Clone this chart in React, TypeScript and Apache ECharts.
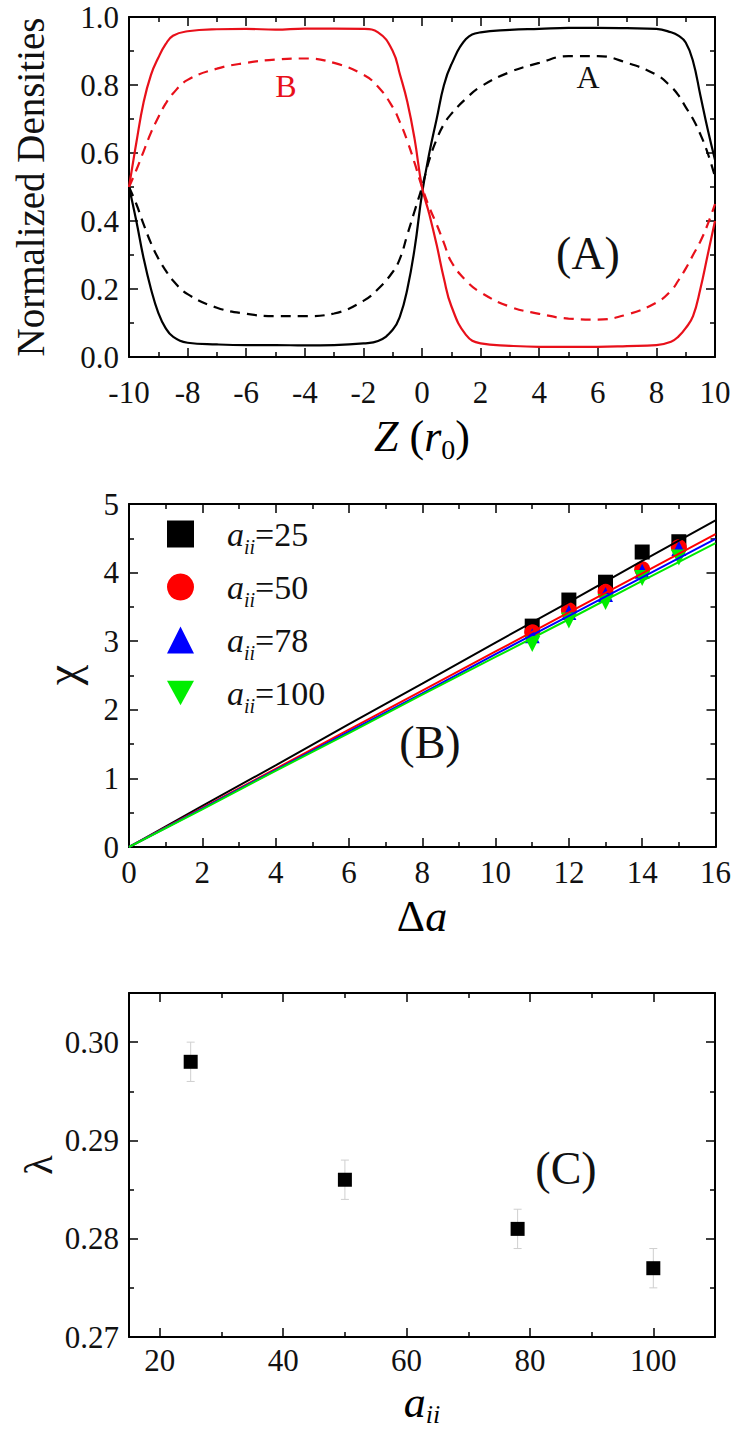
import React, { useEffect, useRef } from "react";
import * as echarts from "echarts";

// ---------- Panel A data ----------
const zGrid = [-10, -9.75, -9.5, -9.25, -9, -8.75, -8.5, -8, -7, -6, -5, -4, -3, -2, -1.5, -1, -0.75, -0.5, -0.25, 0, 0.25, 0.5, 0.75, 1, 1.5, 2, 3, 4, 5, 6, 7, 8, 8.5, 8.75, 9, 9.25, 9.5, 9.75, 10];
const blackSolid = [0.5, 0.4, 0.29, 0.2, 0.13, 0.085, 0.06, 0.042, 0.037, 0.035, 0.035, 0.034, 0.035, 0.04, 0.047, 0.08, 0.12, 0.2, 0.32, 0.48, 0.6, 0.7, 0.8, 0.86, 0.935, 0.955, 0.962, 0.965, 0.968, 0.968, 0.967, 0.965, 0.955, 0.945, 0.925, 0.87, 0.77, 0.67, 0.58];
const redSolid = [0.5, 0.63, 0.75, 0.83, 0.88, 0.92, 0.945, 0.958, 0.964, 0.965, 0.963, 0.966, 0.966, 0.965, 0.955, 0.9, 0.83, 0.75, 0.64, 0.5, 0.42, 0.33, 0.23, 0.15, 0.065, 0.04, 0.033, 0.03, 0.03, 0.03, 0.032, 0.035, 0.045, 0.06, 0.085, 0.12, 0.2, 0.3, 0.4];
const blackDashed = [0.5, 0.45, 0.39, 0.335, 0.29, 0.255, 0.225, 0.185, 0.145, 0.127, 0.12, 0.12, 0.128, 0.165, 0.2, 0.25, 0.29, 0.36, 0.43, 0.5, 0.58, 0.64, 0.685, 0.715, 0.76, 0.795, 0.838, 0.865, 0.885, 0.885, 0.865, 0.83, 0.795, 0.77, 0.735, 0.7, 0.655, 0.6, 0.53];
const redDashed = [0.5, 0.55, 0.605, 0.66, 0.705, 0.745, 0.775, 0.815, 0.848, 0.865, 0.875, 0.878, 0.865, 0.83, 0.795, 0.735, 0.69, 0.635, 0.57, 0.5, 0.44, 0.39, 0.335, 0.28, 0.225, 0.19, 0.148, 0.127, 0.113, 0.11, 0.125, 0.16, 0.195, 0.225, 0.26, 0.3, 0.34, 0.39, 0.45];
const aXMajor = [-10, -8, -6, -4, -2, 0, 2, 4, 6, 8, 10];
const aXMinor = [-9, -7, -5, -3, -1, 1, 3, 5, 7, 9];
const aYMajor = [0, 0.2, 0.4, 0.6, 0.8, 1.0];
const aYMinor = [0.1, 0.3, 0.5, 0.7, 0.9];

// ---------- Panel B data ----------
const deltaA = [0, 2, 4, 6, 8, 10, 12, 14, 16];
const fit25 = [0, 0.6, 1.19, 1.79, 2.38, 2.98, 3.57, 4.17, 4.76];
const fit50 = [0, 0.57, 1.14, 1.71, 2.28, 2.85, 3.42, 3.99, 4.56];
const fit78 = [0, 0.56, 1.12, 1.68, 2.24, 2.81, 3.37, 3.93, 4.49];
const fit100 = [0, 0.55, 1.11, 1.66, 2.22, 2.77, 3.32, 3.88, 4.43];
const deltaPts = [11, 12, 13, 14, 15];
const chi25 = [3.22, 3.6, 3.86, 4.3, 4.45];
const chi50 = [3.13, 3.45, 3.72, 4.05, 4.37];
const chi78 = [3.08, 3.42, 3.68, 4.02, 4.35];
const chi100 = [2.96, 3.3, 3.57, 3.92, 4.22];
const bXMajor = [0, 2, 4, 6, 8, 10, 12, 14, 16];
const bXMinor = [1, 3, 5, 7, 9, 11, 13, 15];
const bYMajor = [0, 1, 2, 3, 4, 5];
const bYMinor = [0.5, 1.5, 2.5, 3.5, 4.5];

// ---------- Panel C data ----------
const aii = [25, 50, 78, 100];
const lambda = [0.298, 0.286, 0.281, 0.277];
const lambdaErr = [0.002, 0.002, 0.002, 0.002];
const cXMajor = [20, 40, 60, 80, 100];
const cXMinor = [30, 50, 70, 90];
const cYMajor = [0.27, 0.28, 0.29, 0.3];
const cYMinor = [0.275, 0.285, 0.295];

const FONT = "Liberation Serif";
const INK = "#111";
const DOWN_TRI = "path://M0,0 L10,0 L5,9 Z";

function axisSet(dim: "x" | "y", gridIndex: number, min: number, max: number, major: number[], minor: number[], fmt: (v: number) => string, xMargin = 10) {
  const main = dim === "x" ? "bottom" : "left";
  const opp = dim === "x" ? "top" : "right";
  const base = (pos: string, ticks: number[], len: number, showLine: boolean, showLabel: boolean) => ({
    type: "value",
    gridIndex,
    min,
    max,
    position: pos,
    axisLine: { show: showLine, onZero: false, lineStyle: { color: "#000", width: 2 } },
    axisTick: { show: true, inside: true, length: len, customValues: ticks, lineStyle: { color: "#000", width: 1.5 } },
    axisLabel: {
      show: showLabel,
      customValues: ticks,
      formatter: (v: number) => fmt(v),
      fontFamily: FONT,
      fontSize: 31,
      color: INK,
      margin: dim === "x" ? xMargin : 10,
    },
    splitLine: { show: false },
    minorTick: { show: false },
  });
  return [
    base(main, major, 9, true, true),
    base(main, minor, 5, false, false),
    base(opp, major, 9, true, false),
    base(opp, minor, 5, false, false),
  ];
}

export default function App() {
  const ref = useRef<HTMLDivElement>(null);
  useEffect(() => {
    if (!ref.current) return;
    const chart = echarts.init(ref.current, null, { renderer: "svg" });

    const xAxes = [
      ...axisSet("x", 0, -10, 10, aXMajor, aXMinor, (v) => String(v), 20),
      ...axisSet("x", 1, 0, 16, bXMajor, bXMinor, (v) => String(v), 10),
      ...axisSet("x", 2, 15, 110, cXMajor, cXMinor, (v) => String(v), 8),
    ];
    const yAxes = [
      ...axisSet("y", 0, 0, 1, aYMajor, aYMinor, (v) => v.toFixed(1)),
      ...axisSet("y", 1, 0, 5, bYMajor, bYMinor, (v) => String(v)),
      ...axisSet("y", 2, 0.27, 0.305, cYMajor, cYMinor, (v) => v.toFixed(2)),
    ];

    const pairs = (xs: number[], ys: number[]) => xs.map((x, i) => [x, ys[i]]);

    const lineA = (data: number[], color: string, dashed: boolean) => ({
      type: "line",
      xAxisIndex: 0,
      yAxisIndex: 0,
      data: pairs(zGrid, data),
      showSymbol: false,
      smooth: 0.45,
      lineStyle: { color, width: 2.2, type: dashed ? [10, 7] : "solid" },
      z: 3,
    });

    const fitLine = (data: number[], color: string) => ({
      type: "line",
      xAxisIndex: 4,
      yAxisIndex: 4,
      data: pairs(deltaA, data),
      showSymbol: false,
      lineStyle: { color, width: 2 },
      z: 4,
    });

    const scat = (name: string, data: number[], color: string, symbol: string, size: number) => ({
      type: "scatter",
      name,
      xAxisIndex: 4,
      yAxisIndex: 4,
      data: pairs(deltaPts, data),
      symbol,
      symbolSize: size,
      itemStyle: { color, opacity: 1 },
      z: 3,
    });

    const errData = aii.map((a, i) => [a, lambda[i] - lambdaErr[i], lambda[i] + lambdaErr[i]]);

    const rich = {
      i: { fontFamily: FONT, fontStyle: "italic", fontSize: 44, color: INK },
      n: { fontFamily: FONT, fontSize: 44, color: INK },
      sub: { fontFamily: FONT, fontSize: 28, color: INK, padding: [26, 0, 0, 0] },
      isub: { fontFamily: FONT, fontStyle: "italic", fontSize: 26, color: INK, padding: [24, 0, 0, 0] },
    };

    const option: any = {
      animation: false,
      backgroundColor: "#fff",
      textStyle: { fontFamily: FONT },
      grid: [
        { left: 129, top: 17, width: 586, height: 340 },
        { left: 129, top: 504, width: 587, height: 343 },
        { left: 129, top: 993, width: 586, height: 344 },
      ],
      xAxis: xAxes,
      yAxis: yAxes,
      legend: {
        data: ["a_ii=25", "a_ii=50", "a_ii=78", "a_ii=100"],
        orient: "vertical",
        left: 162,
        top: 512,
        itemWidth: 27,
        itemHeight: 27,
        itemGap: 13,
        formatter: (name: string) => `{a|a}{s|ii}{n|=${name.split("=")[1]}}`,
        textStyle: {
          fontFamily: FONT,
          fontSize: 32,
          color: INK,
          rich: {
            a: { fontFamily: FONT, fontStyle: "italic", fontSize: 34, color: INK, padding: [0, 0, 0, 28] },
            s: { fontFamily: FONT, fontStyle: "italic", fontSize: 20, color: INK, padding: [26, 0, 0, 0] },
            n: { fontFamily: FONT, fontSize: 34, color: INK },
          },
        },
      },
      series: [
        lineA(blackDashed, "#000", true),
        lineA(redDashed, "#e8101a", true),
        lineA(blackSolid, "#000", false),
        lineA(redSolid, "#e8101a", false),
        fitLine(fit25, "#000"),
        fitLine(fit50, "#ff0000"),
        fitLine(fit78, "#0000ff"),
        fitLine(fit100, "#00e800"),
        scat("a_ii=25", chi25, "#000", "rect", 15),
        scat("a_ii=50", chi50, "#ff0000", "circle", 16),
        scat("a_ii=78", chi78, "#0000ff", "triangle", 15),
        scat("a_ii=100", chi100, "#00ee00", DOWN_TRI, 16),
        {
          type: "custom",
          xAxisIndex: 8,
          yAxisIndex: 8,
          data: errData,
          z: 2,
          renderItem: (params: any, api: any) => {
            const x = api.value(0);
            const lo = api.coord([x, api.value(1)]);
            const hi = api.coord([x, api.value(2)]);
            const st = { stroke: "#cfcfcf", lineWidth: 1 };
            return {
              type: "group",
              children: [
                { type: "line", shape: { x1: lo[0], y1: lo[1], x2: hi[0], y2: hi[1] }, style: st },
                { type: "line", shape: { x1: lo[0] - 4, y1: lo[1], x2: lo[0] + 4, y2: lo[1] }, style: st },
                { type: "line", shape: { x1: hi[0] - 4, y1: hi[1], x2: hi[0] + 4, y2: hi[1] }, style: st },
              ],
            };
          },
        },
        {
          type: "scatter",
          xAxisIndex: 8,
          yAxisIndex: 8,
          data: pairs(aii, lambda),
          symbol: "rect",
          symbolSize: 14,
          itemStyle: { color: "#000", opacity: 1 },
          z: 3,
        },
      ],
      graphic: [
        { type: "text", x: 30, y: 187, rotation: Math.PI / 2, style: { text: "Normalized Densities", fontFamily: FONT, fontSize: 39, fill: INK, align: "center", verticalAlign: "middle" } },
        { type: "text", x: 422, y: 436, style: { text: "{i|Z}{n| (}{i|r}{sub|0}{n|)}", rich, align: "center", verticalAlign: "middle" } },
        { type: "text", x: 588, y: 77, style: { text: "A", fontFamily: FONT, fontSize: 32, fill: INK, align: "center", verticalAlign: "middle" } },
        { type: "text", x: 286, y: 86, style: { text: "B", fontFamily: FONT, fontSize: 32, fill: "#e8101a", align: "center", verticalAlign: "middle" } },
        { type: "text", x: 588, y: 253, style: { text: "(A)", fontFamily: FONT, fontSize: 46, fill: INK, align: "center", verticalAlign: "middle" } },
        { type: "text", x: 62, y: 675, rotation: Math.PI / 2, style: { text: "χ", fontFamily: FONT, fontSize: 46, fill: INK, align: "center", verticalAlign: "middle" } },
        { type: "text", x: 422, y: 916, style: { text: "{n|Δ}{i|a}", rich, align: "center", verticalAlign: "middle" } },
        { type: "text", x: 430, y: 742, style: { text: "(B)", fontFamily: FONT, fontSize: 46, fill: INK, align: "center", verticalAlign: "middle" } },
        { type: "text", x: 38, y: 1165, rotation: Math.PI / 2, style: { text: "λ", fontFamily: FONT, fontSize: 40, fill: INK, align: "center", verticalAlign: "middle" } },
        { type: "text", x: 422, y: 1402, style: { text: "{i|a}{isub|ii}", rich, align: "center", verticalAlign: "middle" } },
        { type: "text", x: 566, y: 1168, style: { text: "(C)", fontFamily: FONT, fontSize: 46, fill: INK, align: "center", verticalAlign: "middle" } },
      ],
    };
    chart.setOption(option);
    return () => chart.dispose();
  }, []);
  return <div ref={ref} style={{ position: "absolute", left: 0, top: 0, width: 734, height: 1434, background: "#fff" }} />;
}
